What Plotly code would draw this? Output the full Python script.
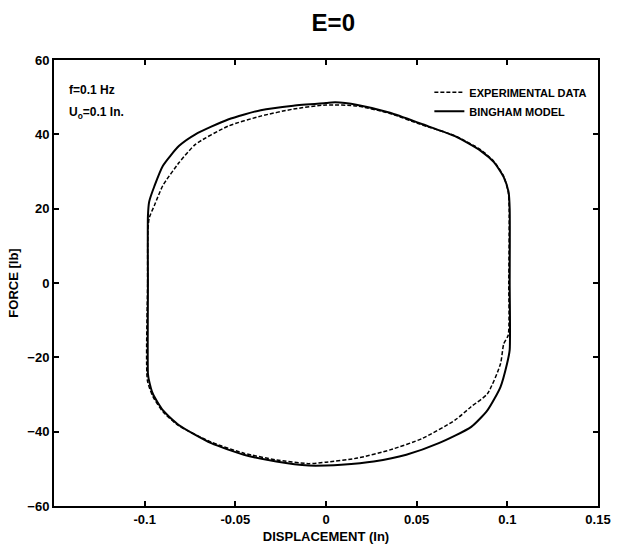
import plotly.graph_objects as go

# Bingham model loop (displacement [in], force [lb])
model_x = [-0.0982, -0.0982, -0.0982, -0.0975, -0.0946, -0.0900, -0.0810, -0.0720,
           -0.0540, -0.0360, -0.0180, 0.0000, 0.0050, 0.0174, 0.0353, 0.0532,
           0.0711, 0.0855, 0.0926, 0.0980, 0.1007, 0.1013, 0.1013, 0.1013,
           0.0998, 0.0962, 0.0891, 0.0801, 0.0622, 0.0443, 0.0263, 0.0084,
           0.0000, -0.0095, -0.0274, -0.0453, -0.0633, -0.0812, -0.0900, -0.0955,
           -0.0978, -0.0982]
model_f = [-24.4, 0.0, 18.0, 21.9, 26.1, 31.5, 36.9, 40.0,
           44.0, 46.5, 47.7, 48.4, 48.6, 47.9, 45.8, 42.7,
           39.5, 35.5, 32.5, 28.5, 24.4, 20.0, 0.0, -18.0,
           -21.8, -28.0, -34.2, -38.7, -43.1, -46.2, -48.0, -48.9,
           -49.1, -49.1, -48.0, -46.2, -43.1, -38.2, -34.2, -29.8,
           -25.8, -24.4]

exp_x = [-0.0985, -0.0984, -0.0982, -0.0975, -0.0946, -0.0900, -0.0810, -0.0720,
         -0.0540, -0.0360, -0.0180, 0.0000, 0.0174, 0.0353, 0.0532, 0.0711,
         0.0855, 0.0926, 0.0980, 0.1005, 0.1010, 0.1008, 0.1005, 0.0980,
         0.0962, 0.0890, 0.0800, 0.0711, 0.0532, 0.0353, 0.0174, 0.0000,
         -0.0095, -0.0274, -0.0453, -0.0633, -0.0812, -0.0900, -0.0955, -0.0985]
exp_f = [-26.2, 0.0, 14.0, 17.5, 20.9, 26.2, 32.4, 37.3,
         42.2, 44.9, 46.8, 47.9, 47.6, 45.6, 42.5, 39.6,
         35.8, 32.7, 28.7, 24.5, 20.0, 0.0, -14.0, -16.4,
         -21.8, -29.8, -33.3, -36.9, -41.8, -44.9, -47.1, -48.2,
         -48.6, -47.6, -45.8, -42.8, -38.4, -34.6, -30.5, -26.2]

x_ticks = [-0.1, -0.05, 0, 0.05, 0.1, 0.15]
x_ticklabels = ["-0.1", "-0.05", "0", "0.05", "0.1", "0.15"]
y_ticks = [-60, -40, -20, 0, 20, 40, 60]

FONT = "Liberation Sans, Arial, sans-serif"

fig = go.Figure()
fig.add_trace(go.Scatter(x=exp_x, y=exp_f, mode="lines", name="EXPERIMENTAL DATA",
                         line=dict(color="black", width=1.5, dash="4px,2px",
                                   shape="spline", smoothing=0.6)))
fig.add_trace(go.Scatter(x=model_x, y=model_f, mode="lines", name="BINGHAM MODEL",
                         line=dict(color="black", width=2,
                                   shape="spline", smoothing=0.6)))

axis_common = dict(showline=True, linecolor="black", linewidth=2, mirror="allticks",
                   ticks="inside", ticklen=5, tickwidth=1.5, tickcolor="black",
                   showgrid=False, zeroline=False,
                   tickfont=dict(family=FONT, size=13, color="black", weight="bold"))

fig.update_layout(
    width=623, height=554,
    margin=dict(l=52, r=13, t=60, b=44),
    paper_bgcolor="white", plot_bgcolor="white",
    title=dict(text="E=0", x=0.535, xanchor="center", y=0.96, yanchor="middle",
               font=dict(family=FONT, size=24, color="black", weight="bold")),
    xaxis=dict(range=[-0.15, 0.15], tickvals=x_ticks, ticktext=x_ticklabels,
               title=dict(text="DISPLACEMENT (In)", standoff=6,
                          font=dict(family=FONT, size=13, color="black", weight="bold")),
               **axis_common),
    yaxis=dict(range=[-60, 60], tickvals=y_ticks,
               title=dict(text="FORCE [lb]", standoff=6,
                          font=dict(family=FONT, size=13, color="black", weight="bold")),
               **axis_common),
    legend=dict(x=0.69, y=0.96, xanchor="left", yanchor="top",
                bgcolor="rgba(0,0,0,0)", tracegroupgap=2,
                font=dict(family=FONT, size=11, color="black", weight="bold")),
    showlegend=True,
)

fig.add_annotation(xref="paper", yref="paper", x=0.023, y=0.933, xanchor="left",
                   yanchor="middle", showarrow=False, text="f=0.1 Hz",
                   font=dict(family=FONT, size=12, color="black", weight="bold"))
fig.add_annotation(xref="paper", yref="paper", x=0.023, y=0.882, xanchor="left",
                   yanchor="middle", showarrow=False, text="U<sub>o</sub>=0.1 In.",
                   font=dict(family=FONT, size=12, color="black", weight="bold"))

fig.write_html("out.html")
